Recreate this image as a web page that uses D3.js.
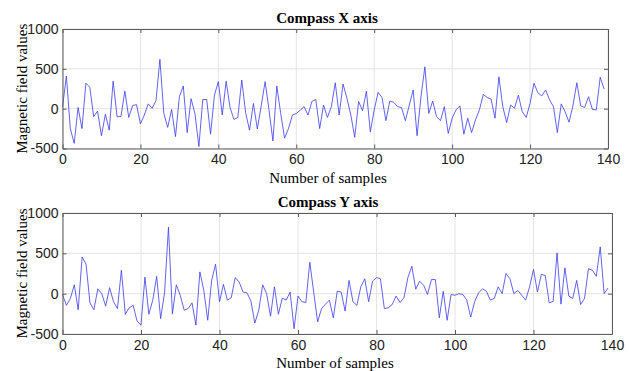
<!DOCTYPE html>
<html>
<head>
<meta charset="utf-8">
<script src="https://cdn.jsdelivr.net/npm/d3@7"></script>
<style>
  body { margin: 0; background: #fff; }
  svg { display: block; }
</style>
</head>
<body>
<div id="chart"></div>
<script>
// Compass readings, one value per sample (0..139)
const compassX = [
  20, 410, -250, -435, 15, -250, 320, 270, -100, -30,
  -340, -70, -270, 345, -100, -100, 220, -110, 40, 50,
  -190, -80, 60, 5, 100, 620, -60, -235, -10, -350,
  150, 285, -300, 125, -65, -475, 115, 115, -320, 170,
  340, -80, 345, 15, -135, -110, 360, -50, -270, 65,
  -255, 35, 340, -15, -405, 285, -60, -370, -250, -80,
  -60, -20, 25, -80, 90, 115, -250, 45, -110, 25,
  325, -80, 310, 130, -80, -360, 90, -25, 220, -290,
  -15, 205, 140, -150, 95, 80, 25, 15, -150, 45,
  235, -340, 150, 525, -60, 95, -100, -150, 25, -310,
  -120, -15, 35, -320, -120, -300, -140, -15, 180, 140,
  120, -120, 400, 25, -175, 45, 5, 170, -40, -110,
  65, 320, 200, 160, 235, 110, 25, -300, 60, -40,
  -170, 35, 325, 35, 15, 150, -10, -15, 395, 245
];
const compassY = [
  -10, -145, -60, 110, -200, 455, 365, -115, -200, 60,
  0, -155, 75, -100, -185, 290, -255, -175, -145, -340,
  -390, 205, -255, -80, 215, -310, 10, 825, -250, 110,
  -20, -205, -185, -115, -390, 270, 40, -330, 165, 365,
  -100, 115, -80, -50, 200, 145, 20, 10, -90, -365,
  -205, 110, 0, -280, 85, -255, -55, -80, 20, -435,
  -30, -100, -110, 390, 20, -350, -185, -130, -80, -300,
  30, 20, -215, 165, -100, -145, 85, 185, -100, 155,
  200, 185, -185, -175, -135, -30, -110, -50, 200, 340,
  55, 155, 105, -10, 175, 175, -300, 30, -330, -10,
  -20, 0, -10, -80, -290, -100, 10, 60, 30, -80,
  -60, 85, 0, 250, 185, 0, 40, -20, -80, 85,
  300, 20, 240, 225, -115, -95, 505, -130, 320, -30,
  -60, 165, -135, -60, 310, 290, 215, 580, 0, 70
];
const xTicks = [0, 20, 40, 60, 80, 100, 120, 140];
const yTicks = [-500, 0, 500, 1000];

const width = 629, height = 371;
const svg = d3.select('#chart').append('svg')
  .attr('width', width)
  .attr('height', height);

// plain numbers, ascii hyphen for negatives
const plain = d => String(d);

// Draws one MATLAB-style panel
function drawPanel(values, title, box) {
  const x = d3.scaleLinear().domain([0, 140]).range([box.left, box.right]);
  const y = d3.scaleLinear().domain([-500, 1000]).range([box.bottom, box.top]);
  const g = svg.append('g');

  // Grid lines
  g.selectAll('.gx').data(xTicks).enter().append('line')
    .attr('x1', d => x(d)).attr('x2', d => x(d))
    .attr('y1', box.top).attr('y2', box.bottom)
    .attr('stroke', '#e4e4e4').attr('stroke-width', 1);
  g.selectAll('.gy').data(yTicks).enter().append('line')
    .attr('x1', box.left).attr('x2', box.right)
    .attr('y1', d => y(d)).attr('y2', d => y(d))
    .attr('stroke', '#e4e4e4').attr('stroke-width', 1);

  // Data line
  const line = d3.line().x((d, i) => x(i)).y(d => y(d));
  g.append('path')
    .datum(values)
    .attr('d', line)
    .attr('fill', 'none')
    .attr('stroke', '#3b3bf0')
    .attr('stroke-width', 0.8);

  // Axes with inward ticks on all sides
  const axisStyle = sel => {
    sel.select('.domain').attr('stroke', '#5a5a5a');
    sel.selectAll('.tick line').attr('stroke', '#5a5a5a');
    sel.selectAll('.tick text')
      .attr('fill', '#222')
      .style('font-family', '"Liberation Sans", Arial, sans-serif')
      .style('font-size', '14px');
  };
  g.append('g')
    .attr('transform', `translate(0,${box.bottom})`)
    .call(d3.axisBottom(x).tickValues(xTicks).tickFormat(plain).tickSizeInner(-4).tickSizeOuter(0).tickPadding(6))
    .call(axisStyle);
  g.append('g')
    .attr('transform', `translate(0,${box.top})`)
    .call(d3.axisTop(x).tickValues(xTicks).tickSizeInner(-4).tickSizeOuter(0).tickFormat(''))
    .call(axisStyle);
  g.append('g')
    .attr('transform', `translate(${box.left},0)`)
    .call(d3.axisLeft(y).tickValues(yTicks).tickFormat(plain).tickSizeInner(-4).tickSizeOuter(0).tickPadding(4))
    .call(axisStyle);
  g.append('g')
    .attr('transform', `translate(${box.right},0)`)
    .call(d3.axisRight(y).tickValues(yTicks).tickSizeInner(-4).tickSizeOuter(0).tickFormat(''))
    .call(axisStyle);

  // Title
  g.append('text')
    .attr('x', box.titleX)
    .attr('y', box.top - 6)
    .attr('text-anchor', 'middle')
    .style('font-family', '"Liberation Serif", "Times New Roman", serif')
    .style('font-weight', 'bold')
    .style('font-size', '15px')
    .text(title);

  // X label
  g.append('text')
    .attr('x', box.labelX)
    .attr('y', box.bottom + 34)
    .attr('text-anchor', 'middle')
    .style('font-family', '"Liberation Serif", "Times New Roman", serif')
    .style('font-size', '15px')
    .text('Number of samples');

  // Y label
  g.append('text')
    .attr('transform', `translate(27,${(box.top + box.bottom) / 2}) rotate(-90)`)
    .attr('text-anchor', 'middle')
    .style('font-family', '"Liberation Serif", "Times New Roman", serif')
    .style('font-size', '15px')
    .text('Magnetic field values');
}

drawPanel(compassX, 'Compass X axis', { left: 62.5, right: 608, top: 29, bottom: 148.5, titleX: 327, labelX: 328 });
drawPanel(compassY, 'Compass Y axis', { left: 62.5, right: 612, top: 213, bottom: 334, titleX: 328, labelX: 335 });
</script>
</body>
</html>
